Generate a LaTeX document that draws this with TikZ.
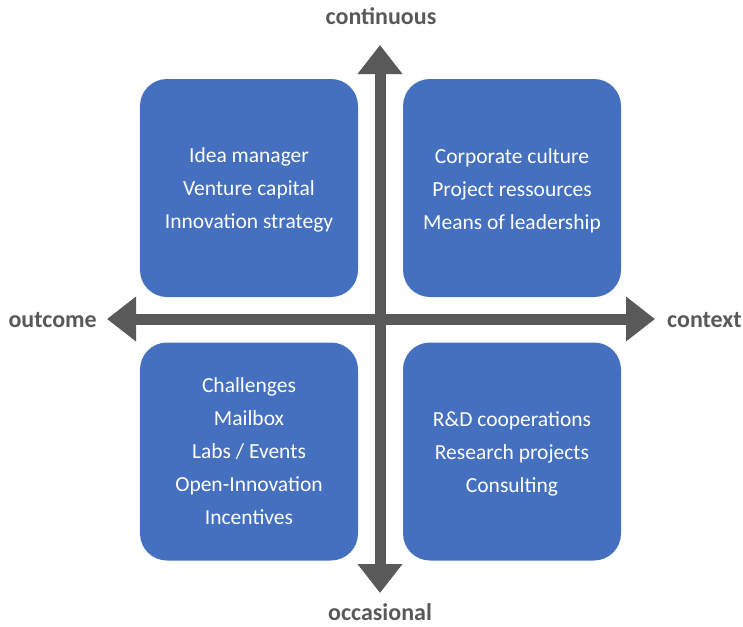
\documentclass[tikz,border=0pt]{standalone}
\usepackage{fontspec}
\setmainfont{Carlito}
\usetikzlibrary{arrows.meta}
\definecolor{quadblue}{HTML}{4570C0}
\definecolor{axisgray}{HTML}{595959}
\newcommand{\toppad}{\rule{0pt}{19.5pt}}
\tikzset{
  quadrant/.style={fill=quadblue, draw=none, rounded corners=27pt,
    minimum width=218pt, minimum height=218pt, text=white, align=center,
    font=\fontsize{21.5}{33}\selectfont, inner sep=0pt},
  axisarrow/.style={draw=axisgray, line width=11pt,
    -{Triangle[width=43pt,length=29pt]}},
  axislabel/.style={text=axisgray, font=\fontsize{24}{28}\selectfont\bfseries, inner sep=0pt}
}
\begin{document}
\begin{tikzpicture}[x=1pt, y=-1pt]
  \useasboundingbox (0,0) rectangle (743,626);
  % four quadrants
  \node[quadrant] (tl) at (249,188) {\toppad Idea manager\\Venture capital\\Innovation strategy};
  \node[quadrant] (tr) at (512,188) {\toppad Corporate culture\\Project ressources\\Means of leadership};
  \node[quadrant] (bl) at (249,451.5) {Challenges\\Mailbox\\Labs / Events\\Open-Innovation\\Incentives};
  \node[quadrant] (br) at (512,451.5) {\toppad R\&D cooperations\\Research projects\\Consulting};
  % axes
  \coordinate (centre) at (380,319);
  \coordinate (up) at (380,45);
  \coordinate (down) at (380,593);
  \coordinate (left) at (107,319);
  \coordinate (right) at (655,319);
  \draw[axisarrow] (centre) -- (up);
  \draw[axisarrow] (centre) -- (down);
  \draw[axisarrow] (centre) -- (left);
  \draw[axisarrow] (centre) -- (right);
  % axis labels
  \node[axislabel] (cont) at (381,16) {continuous};
  \node[axislabel] (occ) at (380,612) {occasional};
  \node[axislabel, anchor=east] (outc) at (97,320) {outcome};
  \node[axislabel, anchor=west] (ctx) at (667,320) {context};
\end{tikzpicture}
\end{document}
